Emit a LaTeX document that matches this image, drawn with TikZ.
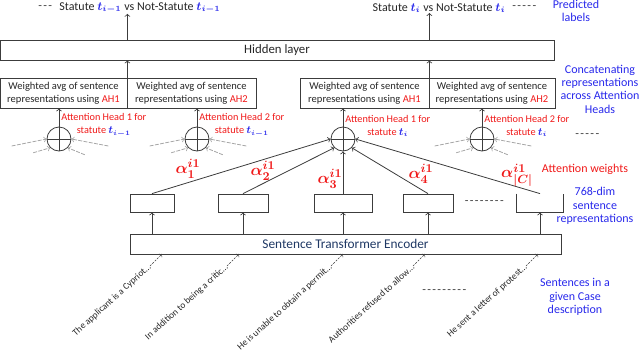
\documentclass[tikz,border=0pt]{standalone}
\usepackage{fontspec}
\setmainfont{Carlito}
\usetikzlibrary{positioning}
\definecolor{labelblue}{RGB}{40,40,235}
\definecolor{headred}{RGB}{240,25,25}
\definecolor{encnavy}{RGB}{31,56,100}
\definecolor{wire}{RGB}{60,60,60}
\newcommand{\tstat}[1]{\textcolor{labelblue}{\boldmath$t_{#1}$}}
\newcommand{\dashrow}[1]{\foreach \i in {1,...,#1}{-\kern1pt}}

\begin{document}
\begin{tikzpicture}[x=0.75pt, y=-0.75pt, line width=0.6pt, color=wire,
    every node/.style={text=black!85, inner sep=0pt},
    layer/.style={draw=wire, minimum height=15pt},
    wavg/.style={draw=wire, minimum height=22.5pt, align=center, font=\fontsize{7.9}{9.8}\selectfont},
    sumnode/.style={circle, draw=wire, minimum size=18pt,
        path picture={\draw[wire] (path picture bounding box.north) -- (path picture bounding box.south)
            (path picture bounding box.west) -- (path picture bounding box.east);}},
    headlbl/.style={text=headred, align=center, anchor=south west, font=\fontsize{7.7}{9.6}\selectfont},
    ghost/.style={->, draw=black!35, dash pattern=on 3pt off 1pt},
    rep/.style={draw=wire, minimum height=13.5pt},
    weight/.style={text=headred, font=\fontsize{12.5}{13}\selectfont\boldmath},
    sent/.style={rotate=42, anchor=east, font=\fontsize{7}{8}\selectfont},
    feed/.style={->, line width=0.4pt, dash pattern=on 1.5pt off 1pt},
    side/.style={text=labelblue, align=center, font=\fontsize{9}{10}\selectfont},
    dots/.style={text=wire, font=\fontsize{9}{10}\selectfont}]
\useasboundingbox (0,0) rectangle (640,351);

\node[layer, minimum width=415.5pt, font=\fontsize{9.6}{11}\selectfont] (hid) at (277,50) {Hidden layer};
\node[wavg, minimum width=95.25pt] (wa1) at (63.5,93) {Weighted avg of sentence\\representations using \textcolor{headred}{AH1}};
\node[wavg, minimum width=96.75pt] (wa2) at (191.5,93) {Weighted avg of sentence\\representations using \textcolor{headred}{AH2}};
\node[wavg, minimum width=96.75pt] (wa3) at (364.5,93) {Weighted avg of sentence\\representations using \textcolor{headred}{AH1}};
\node[wavg, minimum width=94.5pt] (wa4) at (492,93) {Weighted avg of sentence\\representations using \textcolor{headred}{AH2}};

\node[font=\fontsize{9}{10}\selectfont] (top1) at (140,8) {Statute \tstat{i-1} vs Not-Statute \tstat{i-1}};
\node[font=\fontsize{9}{10}\selectfont] (top2) at (439,8) {Statute \tstat{i} vs Not-Statute \tstat{i}};
\node[dots] (d1) at (46,8) {\dashrow{3}};
\node[dots] (d2) at (525,8) {\dashrow{5}};

\draw[->] (wa1.north east) -- (wa1.north east |- hid.south);
\draw[->] (wa3.north east) -- (wa3.north east |- hid.south);
\draw[->] (hid.north -| wa1.north east) -- (top1.south -| wa1.north east);
\draw[->] (hid.north -| wa3.north east) -- (top2.south -| wa3.north east);

\foreach \n/\x/\b/\k/\s in {c1/59/wa1/1/i-1, c2/197/wa2/2/i-1, c3/343/wa3/1/i, c4/482/wa4/2/i} {
  \node[sumnode] (\n) at (\x,139) {};
  \draw[->] (\n.north) -- (\n.north |- \b.south);
  \node[headlbl] (h\n) at ([shift={(2,-2)}]\n.center) {Attention Head \k{} for\\statute \tstat{\s}};
}
\foreach \n in {c1,c2,c4} {
  \draw[ghost] ([shift={(-35,7)}]\n.west) -- (\n.west);
  \draw[ghost] ([shift={(-17,5)}]\n.south west) -- (\n.south west);
  \draw[ghost] ([shift={(37,7)}]\n.east) -- (\n.east);
  \draw[ghost] ([shift={(17,7)}]\n.south east) -- (\n.south east);
}
\node[dots] (d4) at (588,136) {\dashrow{5}};

\foreach \n/\x/\w in {r1/152/33pt, r2/243/37.5pt, r3/343/43.5pt, r4/428/37.5pt}
  \node[rep, minimum width=\w] (\n) at (\x,203) {};
\node[minimum width=34.5pt, minimum height=13.5pt] (r5) at (540,203) {};
\draw (r5.north west) -- (r5.south west) -- (r5.south east) -- (r5.north east);
\node[dots] (d3) at (485,203) {\dashrow{8}};

\draw[->] (r1.north) -- (c3.west);
\draw[->] (r2.north) -- (c3.south west);
\draw[->] (r3.north) -- (c3.south);
\draw[->] (r4.north) -- (c3.south east);
\draw[->] (r5.north) -- (c3.east);

\node[weight] (a1) at (188,169) {$\alpha_1^{i1}$};
\node[weight] (a2) at (263,171) {$\alpha_2^{i1}$};
\node[weight] (a3) at (330,179) {$\alpha_3^{i1}$};
\node[weight] (a4) at (421,174) {$\alpha_4^{i1}$};
\node[weight] (a5) at (517,175) {$\alpha_{|C|}^{i1}$};

\node[layer, minimum width=323.25pt, text=encnavy, font=\fontsize{10}{12}\selectfont] (enc) at (345.5,244) {Sentence Transformer Encoder};
\foreach \k in {1,...,5}
  \draw[->] (enc.north -| r\k) -- (r\k.south);

\foreach \x/\t [count=\k] in {162/The applicant is a Cypriot\dots, 239/In addition to being a critic\dots,
    343/He is unable to obtain a permit\dots, 425/Authorities refused to allow\dots, 538/He sent a letter of protest\dots} {
  \coordinate (e\k) at (\x,254);
  \node[sent] (s\k) at ([shift={(-12,12)}]e\k) {\t};
  \draw[feed] (s\k.east) -- (e\k);
}
\node[dots] (d5) at (445,292) {\dashrow{9}};

\node[side] (pred) at (576,11) {Predicted\\labels};
\node[side] (concat) at (600,89) {Concatenating\\representations\\across Attention\\Heads};
\node[side, text=headred] (attw) at (585,169) {Attention weights};
\node[side] (dim) at (595,206) {768-dim\\sentence\\representations};
\node[side] (sents) at (575,297) {Sentences in a\\given Case\\description};
\end{tikzpicture}
\end{document}
